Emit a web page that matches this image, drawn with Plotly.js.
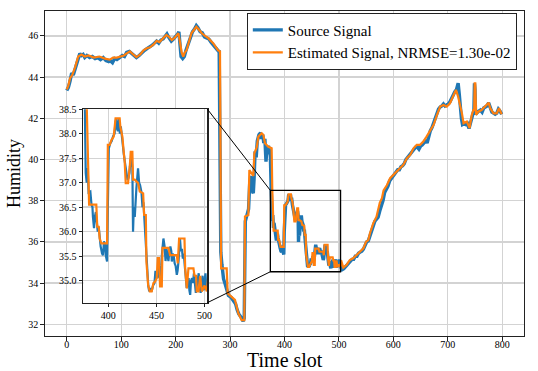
<!DOCTYPE html>
<html>
<head>
<meta charset="utf-8">
<script src="https://cdn.plot.ly/plotly-3.0.1.min.js"></script>
<style>
  html, body { margin: 0; padding: 0; background: #fff; }
  #chart { width: 538px; height: 371px; }
</style>
</head>
<body>
<div id="chart"></div>
<script>
// Source signal (blue)
const srcT = [0, 3, 6, 9, 12, 15, 18, 21, 24, 27, 30, 33, 37, 42, 47, 52, 57, 62, 67, 72, 77, 80, 84, 88, 92, 97,
  102, 106, 110, 115, 119, 124, 128, 133, 138, 143, 148, 152, 157, 161, 165, 169, 173, 177, 181, 184, 188, 192, 196,
  200, 204, 206, 208, 210, 213, 216, 219, 223, 227, 231, 235, 238, 241, 245, 249, 253, 257, 261, 265, 268, 272, 276, 279,
  280, 281, 282, 283, 285, 288, 291, 294, 297, 302, 306, 310, 313, 316, 320, 324, 326, 327, 328, 331, 334, 336, 338,
  340, 342.7, 344, 346, 348, 350, 353, 356, 358, 360, 362, 364, 366, 368, 371, 374,
  375.5, 376.5, 377.5, 378.5, 379.5, 381.3, 382.5, 383.5, 384, 385.1, 386, 387, 388, 389, 390, 391, 392, 393.5, 394.5,
  395.5, 396.5, 397.5, 398.7, 399.5, 400.5, 402, 403.5, 405, 406.5, 407.5, 408.3, 409, 410, 411, 412, 413, 414.5, 416,
  417, 418.8, 420, 421, 422, 423, 424, 425, 425.7, 426.5, 427.5, 429.2, 430.9, 432, 433, 434.5, 435.5, 436.5, 437.3,
  438.5, 439.5, 440.5, 441.5, 442.5, 444, 445, 446.5, 448, 449, 450, 451, 452, 453, 454, 455, 456, 457.3, 458.5, 459.5,
  460.5, 461.5, 462.5, 463.5, 464.5, 465.5, 466, 467, 468, 469, 470, 471.2, 472, 473, 474.5, 475.5, 476.5, 477.5, 478.5,
  479.5, 480.5, 481.5, 482.5, 483.5, 484.3, 485.1, 486, 487, 488, 489, 490, 491, 492, 493, 494, 495, 496, 497, 498, 499,
  500, 501, 502, 503, 504,
  506, 509, 512, 515, 518, 521, 524, 527, 530, 533, 536, 539, 542, 545, 548, 551, 554, 557, 560, 563, 566, 569, 572,
  575, 578, 581, 584, 587, 590, 593, 596, 599, 602, 605, 608, 611, 614, 617, 620, 623, 626, 629, 632, 635, 638, 641,
  644, 647, 650, 653, 656, 659, 662, 665, 668, 671, 674, 677, 680, 683, 686, 689, 692, 695, 698, 701, 704, 707, 710,
  713, 716, 719, 721, 723, 725, 727, 730, 733, 736, 739, 742, 745, 748, 749, 750, 751, 754, 757, 760, 763, 766, 769,
  772, 775, 778, 781, 784, 787, 790, 793, 796, 799];
const srcH = [43.35, 43.5, 43.8, 44.2, 44.1, 44.4, 44.6, 44.95, 45.15, 45.05, 45.1, 44.95, 45.05, 44.95, 45.0, 44.9, 44.95, 44.85, 44.95, 44.8, 44.75, 44.8, 44.7, 44.9, 44.85, 44.95,
  45.05, 45.0, 45.2, 45.25, 45.15, 45.0, 44.95, 45.05, 45.2, 45.3, 45.4, 45.45, 45.55, 45.65, 45.75, 45.65, 45.8, 45.85, 46.0, 46.1, 45.9, 45.75, 45.85,
  45.95, 46.1, 46.2, 45.6, 45.0, 44.9, 45.0, 45.3, 45.6, 46.0, 46.2, 46.35, 46.5, 46.4, 46.2, 46.15, 45.95, 45.9, 45.85, 45.7, 45.6, 45.5, 45.35, 45.25,
  45.3, 41.0, 37.5, 35.5, 34.9, 34.2, 33.95, 33.7, 33.4, 33.3, 33.15, 33.0, 32.7, 32.5, 32.35, 32.15, 32.3, 35.0, 37.0, 37.3, 37.6, 38.8, 39.2,
  38.5, 38.36, 39.0, 40.4, 40.1, 40.9, 41.2, 41.3, 41.0, 41.2, 40.8, 41.0, 39.9, 40.6, 40.6, 40.2,
  38.6, 37.2, 37.0, 37.3, 36.8, 36.82, 36.55, 36.5, 36.3, 36.07, 36.3, 36.4, 36.2, 36.0, 36.1, 35.85, 35.7, 35.55, 35.52,
  35.8, 35.75, 35.5, 35.39, 36.5, 37.7, 37.8, 37.85, 37.95, 38.0, 38.25, 38.3, 38.1, 38.05, 38.3, 38.0, 38.15, 37.8, 37.6,
  37.45, 37.23, 37.05, 37.1, 37.2, 37.45, 37.5, 37.3, 36.0, 36.5, 36.3, 36.89, 37.29, 37.0, 36.95, 36.8, 36.5, 36.6, 36.3,
  35.8, 35.4, 35.05, 34.9, 34.78, 34.85, 34.78, 34.9, 34.95, 35.2, 35.05, 35.1, 35.3, 35.05, 35.15, 35.3, 35.6, 35.86, 35.7, 35.4,
  35.65, 35.55, 35.4, 35.6, 35.7, 35.6, 35.39, 35.55, 35.5, 35.35, 35.3, 35.12, 35.2, 35.4, 35.86, 35.6, 35.65, 35.45, 35.55,
  35.3, 35.05, 34.85, 35.0, 35.05, 34.8, 34.71, 35.0, 35.05, 34.95, 35.15, 34.95, 34.75, 34.9, 35.05, 35.15, 34.85, 34.75, 34.95, 35.1, 34.8,
  34.95, 35.15, 34.85, 34.95, 34.75,
  34.65, 34.7, 34.8, 34.85, 35.0, 35.05, 35.15, 35.15, 35.3, 35.3, 35.45, 35.5, 35.55, 35.65, 35.8, 36.0, 36.05, 36.3, 36.6, 36.75, 37.0, 37.1, 37.2,
  37.5, 37.7, 38.0, 38.4, 38.55, 38.7, 38.95, 39.05, 39.15, 39.3, 39.35, 39.5, 39.5, 39.65, 39.7, 39.8, 40.0, 40.1, 40.2, 40.35, 40.45, 40.55, 40.6,
  40.6, 40.5, 40.65, 40.7, 40.8, 40.95, 40.8, 41.2, 41.4, 41.55, 41.8, 42.0, 42.3, 42.45, 42.55, 42.6, 42.7, 42.6, 42.65, 42.7, 42.8, 43.0, 43.1,
  43.3, 43.4, 43.7, 43.2, 42.5, 42.0, 41.7, 41.75, 41.7, 41.75, 41.5, 41.8, 42.25, 42.4, 43.7, 43.4, 42.2, 42.3, 42.35, 42.4, 42.3, 42.5, 42.55,
  42.6, 42.75, 42.45, 42.3, 42.25, 42.2, 42.25, 42.45, 42.35, 42.2];

// Estimated signal (orange)
const estT = [0, 3, 6, 10, 15, 21, 27, 33, 40, 50, 60, 70, 79, 85, 92, 98, 105, 110, 116, 122, 128, 135, 141, 147, 153,
  160, 165, 170, 176, 183, 188, 193, 198, 205, 208, 211, 214, 217, 220, 225, 229, 234, 238, 243, 248, 254, 260, 265,
  269, 274, 278, 281.5, 283.5, 293.8, 295.6, 309, 315.2, 321.3, 326.2, 327.4, 333.6, 335.4, 342.8, 344.6, 349, 352,
  358.1, 361.1, 364.2, 370.3, 376.4,
  377.5, 379, 380, 387.5, 388.5, 390, 391, 392.7, 398.7, 399.5, 401.4, 403.2, 405.6, 407.5, 411.8, 412.5, 414.6, 416,
  417, 418.1, 420.5, 422.3, 423.3, 425, 425.7, 427.5, 431, 432.7, 436.2, 437.2, 439, 439.6, 441.4, 443.1, 445.1, 446.9,
  448.6, 450.3, 451.4, 452.8, 453.8, 455.6, 456.3, 462.5, 464.2, 471.2, 472.2, 473.6, 479.2, 479.9, 481.6, 483.3, 488.5,
  489.6, 491.2, 492, 493.8, 495.5, 497.2, 500, 502.4, 504,
  508, 514, 520, 526, 533, 539, 545, 550, 554, 557, 563, 569, 575, 579, 582, 588, 594, 600, 606, 612, 618, 625, 631,
  637, 643, 649, 655, 661, 667, 674, 680, 686, 692, 698, 704, 710, 715, 719, 723, 726, 729, 735, 740, 744, 747, 748.5,
  749.4, 750.5, 752, 756, 762, 768, 775, 778, 784, 790, 794, 799];
const estH = [43.4, 43.6, 43.95, 44.1, 44.45, 45.0, 45.1, 45.0, 45.05, 44.95, 45.0, 44.9, 44.85, 44.95, 44.95, 45.0, 45.05, 45.15, 45.25, 45.1, 44.97, 45.1, 45.3, 45.4, 45.45,
  45.6, 45.76, 45.7, 45.85, 46.05, 45.95, 45.8, 45.9, 46.13, 45.7, 45.2, 45.0, 45.2, 45.3, 45.8, 46.13, 46.3, 46.45, 46.3, 46.13, 46.0, 45.89, 45.75,
  45.65, 45.45, 45.3, 45.25, 34.71, 34.71, 33.5, 33.18, 32.53, 32.2, 32.2, 37.23, 37.3, 39.49, 39.2, 40.3, 40.6, 41.11,
  41.27, 41.2, 40.79, 40.62, 40.55,
  38.6, 37.0, 36.55, 36.55, 36.1, 36.1, 35.86, 35.76, 35.76, 37.77, 37.77, 37.87, 37.94, 38.31, 38.31, 38.14, 37.94, 37.63,
  37.43, 36.99, 36.99, 37.33, 37.63, 37.63, 37.06, 37.06, 36.99, 36.82, 36.78, 36.34, 36.34, 35.39, 34.91, 34.78, 34.78, 34.95,
  34.98, 35.05, 35.46, 35.46, 34.88, 34.88, 35.67, 35.67, 35.52, 35.52, 35.35, 35.86, 35.86, 35.25, 34.84, 35.25, 35.25,
  35.1, 35.1, 34.78, 34.78, 35.1, 34.78, 34.9, 34.78, 35.1,
  34.75, 34.88, 35.12, 35.2, 35.36, 35.53, 35.69, 36.01, 36.09, 36.42, 36.9, 37.22, 37.9, 38.12, 38.5, 38.75, 39.09, 39.25, 39.41, 39.57, 39.73, 40.06, 40.22,
  40.54, 40.71, 40.71, 40.87, 41.11, 41.35, 41.68, 42.16, 42.57, 42.65, 42.57, 42.73, 43.05, 43.38, 43.05, 42.65, 42.24, 41.76, 41.84, 41.52, 42.16, 42.4, 42.4,
  43.7, 43.7, 42.16, 42.32, 42.4, 42.57, 42.76, 42.49, 42.24, 42.24, 42.49, 42.2];

// zoomed window shown in the inset
const zoomX = [374, 503];
const zoomY = [34.55, 38.5];

const mainX = [-40, 840];
const mainY = [31.43, 47.21];
const insetDomX = [0.080, 0.339];
const insetDomY = [0.1025, 0.698];

const blue = '#1f77b4';
const orange = '#ff7f0e';
const serif = 'Liberation Serif';
const gridColor = '#d3d3d3';

const traces = [
  { x: srcT, y: srcH, name: 'Source Signal', type: 'scatter', mode: 'lines',
    line: { color: blue, width: 3.4 }, xaxis: 'x', yaxis: 'y' },
  { x: estT, y: estH, name: 'Estimated Signal, NRMSE=1.30e-02', type: 'scatter', mode: 'lines',
    line: { color: orange, width: 2.2 }, xaxis: 'x', yaxis: 'y' },
  { x: srcT, y: srcH, type: 'scatter', mode: 'lines', showlegend: false, hoverinfo: 'skip',
    line: { color: blue, width: 2.2 }, xaxis: 'x2', yaxis: 'y2' },
  { x: estT, y: estH, type: 'scatter', mode: 'lines', showlegend: false, hoverinfo: 'skip',
    line: { color: orange, width: 2.2 }, xaxis: 'x2', yaxis: 'y2' }
];

// paper coords of the zoom box corners (for the connector lines)
const px = v => (v - mainX[0]) / (mainX[1] - mainX[0]);
const py = v => (v - mainY[0]) / (mainY[1] - mainY[0]);

const axisCommon = {
  showline: true, mirror: true, linecolor: '#222', linewidth: 1.2,
  ticks: 'outside', ticklen: 3.5, tickcolor: '#222', tickwidth: 1,
  showgrid: true, gridcolor: gridColor, gridwidth: 1.3, zeroline: false,
  tickfont: { family: serif, size: 10, color: '#000' }
};

const layout = {
  width: 538, height: 371,
  margin: { l: 45, r: 14, t: 11, b: 35 },
  paper_bgcolor: '#fff', plot_bgcolor: '#fff',
  font: { family: serif, color: '#000' },
  showlegend: true,
  legend: {
    x: 0.985, y: 0.995, xanchor: 'right', yanchor: 'top',
    bgcolor: '#fff', bordercolor: '#222', borderwidth: 1,
    font: { family: serif, size: 15, color: '#000' },
    tracegroupgap: 0
  },
  xaxis: Object.assign({}, axisCommon, {
    domain: [0, 1], range: mainX, tickvals: [0, 100, 200, 300, 400, 500, 600, 700, 800],
    ticklabelstandoff: -5
  }),
  yaxis: Object.assign({}, axisCommon, {
    domain: [0, 1], range: mainY, tick0: 32, dtick: 2,
    title: { text: 'Humidity', font: { family: serif, size: 18 }, standoff: 3 }
  }),
  xaxis2: Object.assign({}, axisCommon, {
    domain: insetDomX, anchor: 'y2', range: zoomX, tickvals: [400, 450, 500]
  }),
  yaxis2: Object.assign({}, axisCommon, {
    domain: insetDomY, anchor: 'x2', range: zoomY, tick0: 35, dtick: 0.5, tickformat: '.1f'
  }),
  // x axis label, sitting at the bottom edge under the tick labels
  annotations: [
    { text: 'Time slot', xref: 'paper', yref: 'paper', x: 0.5, y: -0.11,
      xanchor: 'center', yanchor: 'bottom', showarrow: false, borderpad: 0,
      font: { family: serif, size: 20, color: '#000' } }
  ],
  shapes: [
    { type: 'rect', xref: 'x', yref: 'y', x0: zoomX[0], x1: zoomX[1], y0: zoomY[0], y1: zoomY[1],
      line: { color: '#000', width: 1.3 }, fillcolor: 'rgba(0,0,0,0)', layer: 'above' },
    { type: 'line', xref: 'paper', yref: 'paper', x0: insetDomX[1], y0: insetDomY[1],
      x1: px(zoomX[0]), y1: py(zoomY[1]), line: { color: '#000', width: 1 } },
    { type: 'line', xref: 'paper', yref: 'paper', x0: insetDomX[1], y0: insetDomY[0],
      x1: px(zoomX[0]), y1: py(zoomY[0]), line: { color: '#000', width: 1 } }
  ]
};

Plotly.newPlot('chart', traces, layout, { staticPlot: true, displayModeBar: false });
</script>
</body>
</html>
